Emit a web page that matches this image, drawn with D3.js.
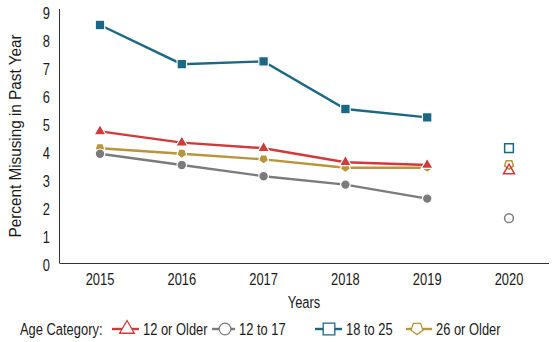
<!DOCTYPE html>
<html>
<head>
<meta charset="utf-8">
<script src="https://cdn.jsdelivr.net/npm/d3@7"></script>
<style>
  body { margin: 0; background: #fff; }
  svg text { font-family: "Liberation Sans", Arial, sans-serif; fill: #1a1a1a; }
</style>
</head>
<body>
<div id="chart"></div>
<script>
var years = [2015, 2016, 2017, 2018, 2019, 2020];
var trendYears = [2015, 2016, 2017, 2018, 2019];
var yTicks = [0, 1, 2, 3, 4, 5, 6, 7, 8, 9];

var names = ['12 or Older', '12 to 17', '18 to 25', '26 or Older'];
var colors = ['#d2393b', '#7b7b7e', '#1b6786', '#b8943a'];
var shapes = [d3.symbolTriangle, d3.symbolCircle, d3.symbolSquare, 'pentagon'];

var older12 = [4.7, 4.3, 4.1, 3.6, 3.5];
var teens = [3.9, 3.5, 3.1, 2.8, 2.3];
var young = [8.5, 7.1, 7.2, 5.5, 5.2];
var older26 = [4.1, 3.9, 3.7, 3.4, 3.4];
var trend = [older12, teens, young, older26];

var last2020 = [3.3, 1.6, 4.1, 3.5];

var width = 555, height = 342, squeeze = 0.76, fs = 17;
var svg = d3.select('#chart').append('svg')
    .attr('width', width)
    .attr('height', height);

var x = d3.scalePoint().domain(years).range([100, 509]);
var y = d3.scaleLinear().domain([0, 9]).range([263, 11]);

// condensed look: squeeze the text horizontally around its anchor point
function place(fx, fy) {
  return function (d, i) {
    var px = typeof fx === 'function' ? fx(d, i) : fx,
        py = typeof fy === 'function' ? fy(d, i) : fy;
    return 'translate(' + px + ',' + py + ') scale(' + squeeze + ',1)';
  };
}

// axes
svg.append('line')
    .attr('x1', 59.5).attr('x2', 59.5)
    .attr('y1', y(9) - 2).attr('y2', y(0))
    .attr('stroke', '#333').attr('stroke-width', 1);
svg.append('line')
    .attr('x1', 59.5).attr('x2', 549)
    .attr('y1', y(0) + 0.5).attr('y2', y(0) + 0.5)
    .attr('stroke', '#333').attr('stroke-width', 1);

svg.append('g').selectAll('text')
    .data(yTicks)
    .enter().append('text')
    .attr('transform', place(50, function (d) { return y(d) + 2; }))
    .attr('text-anchor', 'end')
    .attr('dominant-baseline', 'central')
    .attr('font-size', fs)
    .text(function (d) { return d; });

svg.append('g').selectAll('text')
    .data(years)
    .enter().append('text')
    .attr('transform', place(function (d) { return x(d); }, 279))
    .attr('text-anchor', 'middle')
    .attr('dominant-baseline', 'central')
    .attr('font-size', fs)
    .text(function (d) { return d; });

svg.append('text')
    .attr('transform', place(304, 302))
    .attr('text-anchor', 'middle')
    .attr('dominant-baseline', 'central')
    .attr('font-size', fs)
    .text('Years');

svg.append('text')
    .attr('transform', 'translate(15, ' + (y(4.5) - 1) + ') rotate(-90)')
    .attr('text-anchor', 'middle')
    .attr('dominant-baseline', 'central')
    .attr('font-size', 16)
    .attr('textLength', 203)
    .attr('lengthAdjust', 'spacingAndGlyphs')
    .text('Percent Misusing in Past Year');

function pentagonPath(r) {
  var pts = d3.range(5).map(function (i) {
    var a = Math.PI / 2 + i * 2 * Math.PI / 5;
    return [Math.cos(a) * r, Math.sin(a) * r - r * 0.1];
  });
  return 'M' + pts.map(function (p) { return p.join(','); }).join('L') + 'Z';
}

function markerPath(k, size) {
  if (shapes[k] === 'pentagon') return pentagonPath(Math.sqrt(size / 2.4));
  return d3.symbol().type(shapes[k]).size(size)();
}

var sizes = [62, 72, 90, 62];
var order = [2, 3, 1, 0];

var line = d3.line()
    .x(function (d, i) { return x(trendYears[i]); })
    .y(function (d) { return y(d); });

var series = svg.append('g').selectAll('g')
    .data(order)
    .enter().append('g');

series.append('path')
    .attr('d', function (k) { return line(trend[k]); })
    .attr('fill', 'none')
    .attr('stroke', function (k) { return colors[k]; })
    .attr('stroke-width', 2.4);

series.each(function (k) {
  d3.select(this).selectAll('path.mark')
      .data(trend[k])
      .enter().append('path')
      .classed('mark', true)
      .attr('transform', function (d, i) {
        return 'translate(' + x(trendYears[i]) + ',' + y(d) + ')';
      })
      .attr('d', markerPath(k, sizes[k]))
      .attr('fill', colors[k])
      .attr('stroke', '#fff')
      .attr('stroke-width', 1.2);
});

// 2020 hollow markers
svg.append('g').selectAll('path')
    .data(order)
    .enter().append('path')
    .attr('transform', function (k) {
      return 'translate(' + x(2020) + ',' + y(last2020[k]) + ')';
    })
    .attr('d', function (k) { return markerPath(k, sizes[k] * 0.85); })
    .attr('fill', 'none')
    .attr('stroke', function (k) { return colors[k]; })
    .attr('stroke-width', 1.5);

// legend
var legend = svg.append('g').attr('transform', 'translate(0, 329)');
legend.append('text')
    .attr('transform', place(20, 0))
    .attr('dominant-baseline', 'central')
    .attr('font-size', fs)
    .text('Age Category:');

var legendX = [112, 212, 315, 406];
var lineLen = [27, 23, 27, 26];
var markX = [15, 13, 14, 11];
var items = legend.selectAll('g.item')
    .data(d3.range(4))
    .enter().append('g')
    .classed('item', true)
    .attr('transform', function (k) { return 'translate(' + legendX[k] + ',0)'; });
items.append('line')
    .attr('x1', 0).attr('x2', function (k) { return lineLen[k]; })
    .attr('y1', 0).attr('y2', 0)
    .attr('stroke', function (k) { return colors[k]; })
    .attr('stroke-width', 2.4);
items.append('path')
    .attr('transform', function (k) { return 'translate(' + markX[k] + ',0)'; })
    .attr('d', function (k) { return markerPath(k, sizes[k] * 1.5); })
    .attr('fill', '#fff')
    .attr('stroke', function (k) { return colors[k]; })
    .attr('stroke-width', 1.3);
items.append('text')
    .attr('transform', place(function (k) { return lineLen[k] + 4; }, 0))
    .attr('dominant-baseline', 'central')
    .attr('font-size', fs)
    .text(function (k) { return names[k]; });
</script>
</body>
</html>
